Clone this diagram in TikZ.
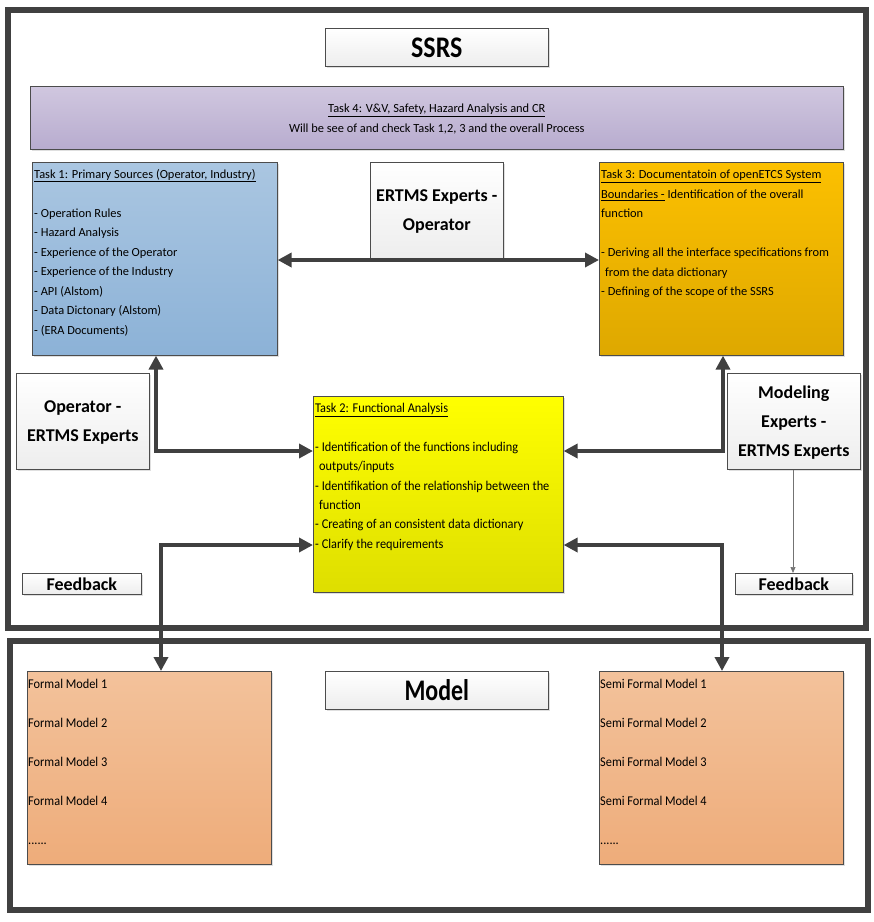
\documentclass[tikz,border=0pt]{standalone}
\usepackage{fontspec}
\setmainfont{Carlito}
\newfontfamily\condf[FakeStretch=0.92]{Carlito}
\usetikzlibrary{arrows.meta,shadows,calc}
\definecolor{frame}{HTML}{404040}
\definecolor{arr}{HTML}{404040}
\tikzset{
  x=1pt,y=-1pt,
  frm/.style={draw=frame,line width=6pt},
  box/.style={draw=black!70,line width=0.6pt,anchor=north west,inner sep=0pt,
    drop shadow={shadow xshift=1.5pt,shadow yshift=-1.5pt,fill=black!25}},
  whitebox/.style={box,top color=white,bottom color=black!7},
  txt/.style={anchor=north west,inner sep=0pt,align=left,font=\fontsize{12.4}{19.5}\selectfont},
  lbl/.style={font=\fontsize{18}{29}\selectfont\bfseries,align=center,inner sep=0pt},
  bigarr/.style={draw=arr,line width=4pt,{Triangle[length=14pt,width=14pt]}-{Triangle[length=14pt,width=14pt]}},
  thinarr/.style={draw=black!55,line width=0.7pt,-{Triangle[length=6pt,width=5pt]}},
}
\begin{document}
\begin{tikzpicture}
\useasboundingbox (0,0) rectangle (874,922);
% frames
\draw[frm] (8,10) rectangle (866,628);
\draw[frm] (10,641) rectangle (868,910);

% SSRS title
\node[whitebox,minimum width=223pt,minimum height=38pt] (ssrs) at (325,28) {};
\node[font=\fontsize{26}{30}\selectfont\bfseries] (ssrst) at (ssrs.center) {\scalebox{1}[1.15]{SSRS}};

% Task 4
\node[box,minimum width=813pt,minimum height=63pt,top color={rgb,255:red,208;green,199;blue,223},bottom color={rgb,255:red,184;green,172;blue,207}] (t4) at (30,86) {};
\node[font=\fontsize{12.4}{19.5}\selectfont,align=center,inner sep=0pt] (t4t) at ($(t4.center)+(0,1)$) {\underline{Task 4: V\&V, Safety, Hazard Analysis and CR}\\Will be see of and check Task 1,2, 3 and the overall Process};

% Task 1
\node[box,minimum width=245pt,minimum height=193pt,top color={rgb,255:red,170;green,198;blue,225},bottom color={rgb,255:red,140;green,178;blue,215}] (t1) at (32,162) {};
\node[txt] (t1t) at (34,169) {\underline{Task 1: Primary Sources (Operator, Industry)}\\[19.5pt]
- Operation Rules\\- Hazard Analysis\\- Experience of the Operator\\- Experience of the Industry\\- API (Alstom)\\- Data Dictonary (Alstom)\\- (ERA Documents)};

% ERTMS Experts - Operator
\node[whitebox,minimum width=133pt,minimum height=96pt] (eo) at (370,162) {};
\node[lbl] (eot) at ($(eo.center)+(0,1)$) {ERTMS Experts -\\Operator};

% Task 3
\node[box,minimum width=244pt,minimum height=193pt,top color={rgb,255:red,252;green,192;blue,0},bottom color={rgb,255:red,222;green,168;blue,0}] (t3) at (599,162) {};
\node[txt] (t3t) at (601,170) {\underline{Task 3: Documentatoin of openETCS System}\\\underline{Boundaries -} Identification of the overall\\function\\[19.5pt]
- Deriving all the interface specifications from\\\hspace*{4pt}from the data dictionary\\- Defining of the scope of the SSRS};

% Operator - ERTMS Experts
\node[whitebox,minimum width=133pt,minimum height=96pt] (oe) at (16,373) {};
\node[lbl] (oet) at ($(oe.center)+(0,1)$) {Operator -\\ERTMS Experts};

% Task 2
\node[box,minimum width=250pt,minimum height=196pt,top color={rgb,255:red,255;green,255;blue,0},bottom color={rgb,255:red,222;green,222;blue,0}] (t2) at (313,396) {};
\node[txt,font=\condf\fontsize{13.4}{19.4}\selectfont] (t2t) at (315,403) {\underline{Task 2: Functional Analysis}\\[19.4pt]
- Identification of the functions including\\\hspace*{4pt}outputs/inputs\\- Identifikation of the relationship between the\\\hspace*{4pt}function\\- Creating of an consistent data dictionary\\- Clarify the requirements};

% Modeling Experts - ERTMS Experts
\node[whitebox,minimum width=133pt,minimum height=96pt] (me) at (727,373) {};
\node[lbl] (met) at ($(me.center)+(0,1)$) {Modeling\\Experts -\\ERTMS Experts};

% Feedback boxes
\node[whitebox,minimum width=119pt,minimum height=21pt] (fbl) at (22,573) {};
\node[lbl] (fblt) at (fbl.center) {Feedback};
\node[whitebox,minimum width=117pt,minimum height=21pt] (fbr) at (735,573) {};
\node[lbl] (fbrt) at (fbr.center) {Feedback};

% Model boxes
\node[box,minimum width=244pt,minimum height=193pt,top color={rgb,255:red,243;green,194;blue,155},bottom color={rgb,255:red,238;green,172;blue,122}] (fm) at (27,671) {};
\node[txt,font=\condf\fontsize{13.4}{19.5}\selectfont] (fmt) at (28,679) {Formal Model 1\\[19.5pt]Formal Model 2\\[19.5pt]Formal Model 3\\[19.5pt]Formal Model 4\\[19.5pt]......};
\node[whitebox,minimum width=223pt,minimum height=38pt] (mdl) at (325,671) {};
\node[font=\fontsize{26}{30}\selectfont\bfseries] (mdlt) at (mdl.center) {\scalebox{0.92}[1.15]{Model}};
\node[box,minimum width=244pt,minimum height=193pt,top color={rgb,255:red,243;green,194;blue,155},bottom color={rgb,255:red,238;green,172;blue,122}] (sfm) at (599,671) {};
\node[txt,font=\condf\fontsize{13.4}{19.5}\selectfont] (sfmt) at (600,679) {Semi Formal Model 1\\[19.5pt]Semi Formal Model 2\\[19.5pt]Semi Formal Model 3\\[19.5pt]Semi Formal Model 4\\[19.5pt]......};

% connectors
\draw[bigarr] (t1.east |- 0,260) -- (t3.west |- 0,260);
\draw[bigarr] (t1.south -| 156,0) |- (t2.west |- 0,451);
\draw[bigarr] (t3.south -| 723,0) |- (t2.east |- 0,451);
\draw[bigarr] (t2.west |- 0,545) -| (fm.north -| 161,0);
\draw[bigarr] (t2.east |- 0,545) -| (sfm.north -| 722,0);
\draw[thinarr] (me.south -| 793,0) -- (fbr.north -| 793,0);
\end{tikzpicture}
\end{document}
